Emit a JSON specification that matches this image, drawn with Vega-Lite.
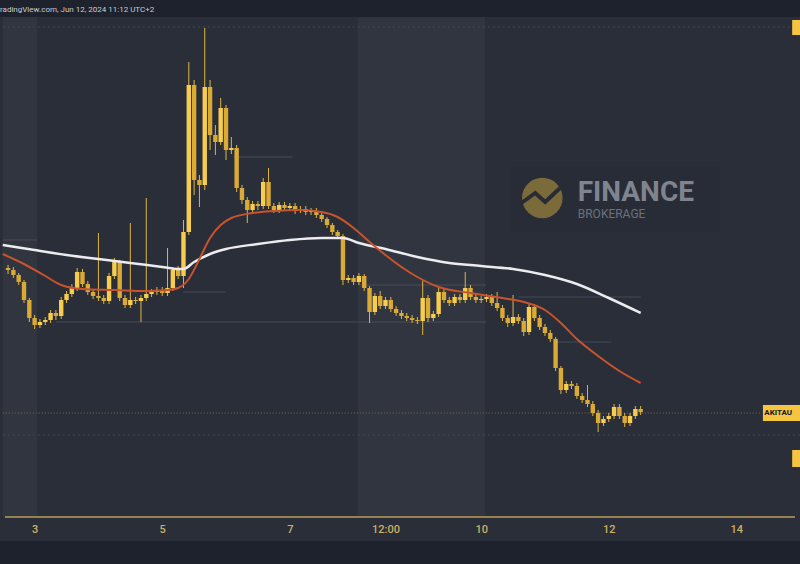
{
  "$schema": "https://vega.github.io/schema/vega-lite/v6.json",
  "width": 800,
  "height": 524,
  "autosize": {"type": "none"},
  "padding": {"left": 0, "top": 17, "right": 0, "bottom": 23},
  "background": "#1e222d",
  "title": {"text": "radingView.com, Jun 12, 2024 11:12 UTC+2", "anchor": "start", "frame": "group", "offset": 3, "fontSize": 8, "font": "Roboto", "fontWeight": "normal", "color": "#c9ccd4"},
  "config": {"view": {"fill": "#2a2e39", "stroke": null}},
  "datasets": {
    "bands": [
      {"s": "2024-06-02T12:00", "e": "2024-06-03T01:00"},
      {"s": "2024-06-08T01:30", "e": "2024-06-10T01:30"}
    ],
    "levels": [
      {"s": "2024-06-02T12:00", "e": "2024-06-14T20:00", "v": 514, "kind": "dot"},
      {"s": "2024-06-02T12:00", "e": "2024-06-14T09:30", "v": 128, "kind": "price"},
      {"s": "2024-06-02T12:00", "e": "2024-06-15T00:00", "v": 106, "kind": "dot"},
      {"s": "2024-06-06T03:00", "e": "2024-06-07T01:00", "v": 384, "kind": "seg"},
      {"s": "2024-06-05T08:00", "e": "2024-06-06T00:00", "v": 249, "kind": "seg"},
      {"s": "2024-06-03T08:00", "e": "2024-06-10T02:00", "v": 219, "kind": "seg"},
      {"s": "2024-06-10T14:00", "e": "2024-06-12T12:00", "v": 244, "kind": "seg"},
      {"s": "2024-06-11T04:00", "e": "2024-06-12T01:00", "v": 199, "kind": "seg"},
      {"s": "2024-06-02T12:00", "e": "2024-06-03T01:00", "v": 301, "kind": "seg"},
      {"s": "2024-06-08T02:00", "e": "2024-06-10T02:00", "v": 256, "kind": "seg"}
    ],
    "tags": [
      {"s": "2024-06-14T10:00", "e": "2024-06-15T00:00", "lo": 120, "hi": 136},
      {"s": "2024-06-14T21:00", "e": "2024-06-15T00:00", "lo": 506, "hi": 521},
      {"s": "2024-06-14T21:00", "e": "2024-06-15T00:00", "lo": 74, "hi": 91}
    ],
    "logo": [
      {"n": 1, "t": "2024-06-10T15:10", "v": 338},
      {"n": 2, "t": "2024-06-10T20:20", "v": 348},
      {"n": 3, "t": "2024-06-11T00:05", "v": 339},
      {"n": 4, "t": "2024-06-11T05:40", "v": 353}
    ],
    "ma200": [
      {"t": "2024-06-02T12:00", "v": 296},
      {"t": "2024-06-03T00:00", "v": 291},
      {"t": "2024-06-03T12:00", "v": 286},
      {"t": "2024-06-04T00:00", "v": 282},
      {"t": "2024-06-04T12:00", "v": 278},
      {"t": "2024-06-05T00:00", "v": 274},
      {"t": "2024-06-05T06:00", "v": 272},
      {"t": "2024-06-05T08:00", "v": 272},
      {"t": "2024-06-05T12:00", "v": 279},
      {"t": "2024-06-05T18:00", "v": 287},
      {"t": "2024-06-06T00:00", "v": 292},
      {"t": "2024-06-06T12:00", "v": 297},
      {"t": "2024-06-07T00:00", "v": 301},
      {"t": "2024-06-07T12:00", "v": 303},
      {"t": "2024-06-07T20:00", "v": 303},
      {"t": "2024-06-08T02:00", "v": 298},
      {"t": "2024-06-08T12:00", "v": 292},
      {"t": "2024-06-09T00:00", "v": 284},
      {"t": "2024-06-09T12:00", "v": 278},
      {"t": "2024-06-10T00:00", "v": 275},
      {"t": "2024-06-10T12:00", "v": 272},
      {"t": "2024-06-11T00:00", "v": 266},
      {"t": "2024-06-11T12:00", "v": 257},
      {"t": "2024-06-12T00:00", "v": 243},
      {"t": "2024-06-12T12:00", "v": 228}
    ],
    "ma50": [
      {"t": "2024-06-02T12:00", "v": 287},
      {"t": "2024-06-02T20:00", "v": 277},
      {"t": "2024-06-03T04:00", "v": 265},
      {"t": "2024-06-03T10:00", "v": 256},
      {"t": "2024-06-03T18:00", "v": 252},
      {"t": "2024-06-04T06:00", "v": 251},
      {"t": "2024-06-04T18:00", "v": 250},
      {"t": "2024-06-05T02:00", "v": 251},
      {"t": "2024-06-05T06:00", "v": 253},
      {"t": "2024-06-05T10:00", "v": 262},
      {"t": "2024-06-05T14:00", "v": 282},
      {"t": "2024-06-05T18:00", "v": 303},
      {"t": "2024-06-05T22:00", "v": 316},
      {"t": "2024-06-06T02:00", "v": 323},
      {"t": "2024-06-06T10:00", "v": 328},
      {"t": "2024-06-06T18:00", "v": 330},
      {"t": "2024-06-07T04:00", "v": 331},
      {"t": "2024-06-07T12:00", "v": 329},
      {"t": "2024-06-07T18:00", "v": 324},
      {"t": "2024-06-08T00:00", "v": 313},
      {"t": "2024-06-08T06:00", "v": 299},
      {"t": "2024-06-08T12:00", "v": 286},
      {"t": "2024-06-08T18:00", "v": 274},
      {"t": "2024-06-09T00:00", "v": 264},
      {"t": "2024-06-09T08:00", "v": 254},
      {"t": "2024-06-09T20:00", "v": 248},
      {"t": "2024-06-10T08:00", "v": 243},
      {"t": "2024-06-10T16:00", "v": 239},
      {"t": "2024-06-11T00:00", "v": 231},
      {"t": "2024-06-11T06:00", "v": 218},
      {"t": "2024-06-11T12:00", "v": 202},
      {"t": "2024-06-11T20:00", "v": 185},
      {"t": "2024-06-12T04:00", "v": 170},
      {"t": "2024-06-12T12:00", "v": 158}
    ],
    "candles": [
      {"t": "2024-06-02T14:00", "o": 273, "h": 276, "l": 267, "c": 271},
      {"t": "2024-06-02T16:00", "o": 271, "h": 274, "l": 263, "c": 266},
      {"t": "2024-06-02T18:00", "o": 266, "h": 268, "l": 256, "c": 259},
      {"t": "2024-06-02T20:00", "o": 259, "h": 261, "l": 238, "c": 241},
      {"t": "2024-06-02T22:00", "o": 241, "h": 243, "l": 219, "c": 223},
      {"t": "2024-06-03T00:00", "o": 223, "h": 226, "l": 212, "c": 216},
      {"t": "2024-06-03T02:00", "o": 216, "h": 222, "l": 213, "c": 219},
      {"t": "2024-06-03T04:00", "o": 219, "h": 224, "l": 216, "c": 221},
      {"t": "2024-06-03T06:00", "o": 221, "h": 231, "l": 218, "c": 228},
      {"t": "2024-06-03T08:00", "o": 228, "h": 231, "l": 221, "c": 225},
      {"t": "2024-06-03T10:00", "o": 225, "h": 244, "l": 222, "c": 241},
      {"t": "2024-06-03T12:00", "o": 241, "h": 250, "l": 238, "c": 247},
      {"t": "2024-06-03T14:00", "o": 247, "h": 257, "l": 244, "c": 253},
      {"t": "2024-06-03T16:00", "o": 253, "h": 273, "l": 250, "c": 269},
      {"t": "2024-06-03T18:00", "o": 269, "h": 272, "l": 254, "c": 257},
      {"t": "2024-06-03T20:00", "o": 257, "h": 260, "l": 246, "c": 249},
      {"t": "2024-06-03T22:00", "o": 249, "h": 252, "l": 242, "c": 245},
      {"t": "2024-06-04T00:00", "o": 245, "h": 308, "l": 240, "c": 243},
      {"t": "2024-06-04T02:00", "o": 243, "h": 246, "l": 237, "c": 240},
      {"t": "2024-06-04T04:00", "o": 240, "h": 268, "l": 237, "c": 265},
      {"t": "2024-06-04T06:00", "o": 265, "h": 283, "l": 262, "c": 279},
      {"t": "2024-06-04T08:00", "o": 279, "h": 281, "l": 240, "c": 243},
      {"t": "2024-06-04T10:00", "o": 243, "h": 246, "l": 233, "c": 236},
      {"t": "2024-06-04T12:00", "o": 236, "h": 318, "l": 233, "c": 241},
      {"t": "2024-06-04T14:00", "o": 241, "h": 244, "l": 237, "c": 240},
      {"t": "2024-06-04T16:00", "o": 240, "h": 246, "l": 219, "c": 243},
      {"t": "2024-06-04T18:00", "o": 243, "h": 343, "l": 240, "c": 247},
      {"t": "2024-06-04T20:00", "o": 247, "h": 252, "l": 244, "c": 249},
      {"t": "2024-06-04T22:00", "o": 249, "h": 254, "l": 246, "c": 251},
      {"t": "2024-06-05T00:00", "o": 251, "h": 254, "l": 245, "c": 248},
      {"t": "2024-06-05T02:00", "o": 248, "h": 293, "l": 245, "c": 253},
      {"t": "2024-06-05T04:00", "o": 253, "h": 274, "l": 250, "c": 271},
      {"t": "2024-06-05T06:00", "o": 271, "h": 275, "l": 262, "c": 265},
      {"t": "2024-06-05T08:00", "o": 265, "h": 321, "l": 253, "c": 309},
      {"t": "2024-06-05T10:00", "o": 309, "h": 479, "l": 306, "c": 456},
      {"t": "2024-06-05T12:00", "o": 456, "h": 461, "l": 346, "c": 361},
      {"t": "2024-06-05T14:00", "o": 361, "h": 366, "l": 334, "c": 356},
      {"t": "2024-06-05T16:00", "o": 356, "h": 513, "l": 351, "c": 454},
      {"t": "2024-06-05T18:00", "o": 454, "h": 461, "l": 391, "c": 406},
      {"t": "2024-06-05T20:00", "o": 406, "h": 416, "l": 386, "c": 399},
      {"t": "2024-06-05T22:00", "o": 399, "h": 443, "l": 396, "c": 433},
      {"t": "2024-06-06T00:00", "o": 433, "h": 436, "l": 381, "c": 391},
      {"t": "2024-06-06T02:00", "o": 391, "h": 404, "l": 387, "c": 393},
      {"t": "2024-06-06T04:00", "o": 393, "h": 396, "l": 349, "c": 353},
      {"t": "2024-06-06T06:00", "o": 353, "h": 356, "l": 337, "c": 341},
      {"t": "2024-06-06T08:00", "o": 341, "h": 344, "l": 318, "c": 331},
      {"t": "2024-06-06T10:00", "o": 331, "h": 340, "l": 327, "c": 337},
      {"t": "2024-06-06T12:00", "o": 337, "h": 340, "l": 331, "c": 335},
      {"t": "2024-06-06T14:00", "o": 335, "h": 363, "l": 332, "c": 359},
      {"t": "2024-06-06T16:00", "o": 359, "h": 373, "l": 332, "c": 335},
      {"t": "2024-06-06T18:00", "o": 335, "h": 338, "l": 328, "c": 331},
      {"t": "2024-06-06T20:00", "o": 331, "h": 339, "l": 328, "c": 336},
      {"t": "2024-06-06T22:00", "o": 336, "h": 339, "l": 330, "c": 333},
      {"t": "2024-06-07T00:00", "o": 333, "h": 338, "l": 330, "c": 335},
      {"t": "2024-06-07T02:00", "o": 335, "h": 338, "l": 327, "c": 331},
      {"t": "2024-06-07T04:00", "o": 331, "h": 335, "l": 328, "c": 332},
      {"t": "2024-06-07T06:00", "o": 332, "h": 335, "l": 326, "c": 329},
      {"t": "2024-06-07T08:00", "o": 329, "h": 333, "l": 326, "c": 330},
      {"t": "2024-06-07T10:00", "o": 330, "h": 333, "l": 323, "c": 326},
      {"t": "2024-06-07T12:00", "o": 326, "h": 328, "l": 319, "c": 322},
      {"t": "2024-06-07T14:00", "o": 322, "h": 324, "l": 313, "c": 316},
      {"t": "2024-06-07T16:00", "o": 316, "h": 318, "l": 306, "c": 309},
      {"t": "2024-06-07T18:00", "o": 309, "h": 311, "l": 302, "c": 305},
      {"t": "2024-06-07T20:00", "o": 305, "h": 307, "l": 256, "c": 261},
      {"t": "2024-06-07T22:00", "o": 261, "h": 266, "l": 258, "c": 263},
      {"t": "2024-06-08T00:00", "o": 263, "h": 266, "l": 256, "c": 259},
      {"t": "2024-06-08T02:00", "o": 259, "h": 268, "l": 256, "c": 265},
      {"t": "2024-06-08T04:00", "o": 265, "h": 267, "l": 250, "c": 253},
      {"t": "2024-06-08T06:00", "o": 253, "h": 255, "l": 218, "c": 229},
      {"t": "2024-06-08T08:00", "o": 229, "h": 248, "l": 226, "c": 245},
      {"t": "2024-06-08T10:00", "o": 245, "h": 250, "l": 232, "c": 235},
      {"t": "2024-06-08T12:00", "o": 235, "h": 244, "l": 232, "c": 241},
      {"t": "2024-06-08T14:00", "o": 241, "h": 244, "l": 229, "c": 232},
      {"t": "2024-06-08T16:00", "o": 232, "h": 235, "l": 225, "c": 228},
      {"t": "2024-06-08T18:00", "o": 228, "h": 231, "l": 222, "c": 225},
      {"t": "2024-06-08T20:00", "o": 225, "h": 228, "l": 220, "c": 223},
      {"t": "2024-06-08T22:00", "o": 223, "h": 226, "l": 218, "c": 221},
      {"t": "2024-06-09T00:00", "o": 221, "h": 224, "l": 217, "c": 220},
      {"t": "2024-06-09T02:00", "o": 220, "h": 261, "l": 206, "c": 243},
      {"t": "2024-06-09T04:00", "o": 243, "h": 246, "l": 219, "c": 223},
      {"t": "2024-06-09T06:00", "o": 223, "h": 230, "l": 220, "c": 227},
      {"t": "2024-06-09T08:00", "o": 227, "h": 253, "l": 224, "c": 249},
      {"t": "2024-06-09T10:00", "o": 249, "h": 252, "l": 238, "c": 241},
      {"t": "2024-06-09T12:00", "o": 241, "h": 244, "l": 235, "c": 238},
      {"t": "2024-06-09T14:00", "o": 238, "h": 247, "l": 235, "c": 244},
      {"t": "2024-06-09T16:00", "o": 244, "h": 247, "l": 238, "c": 241},
      {"t": "2024-06-09T18:00", "o": 241, "h": 269, "l": 238, "c": 253},
      {"t": "2024-06-09T20:00", "o": 253, "h": 256, "l": 241, "c": 244},
      {"t": "2024-06-09T22:00", "o": 244, "h": 247, "l": 238, "c": 241},
      {"t": "2024-06-10T00:00", "o": 241, "h": 245, "l": 238, "c": 242},
      {"t": "2024-06-10T02:00", "o": 242, "h": 247, "l": 239, "c": 244},
      {"t": "2024-06-10T04:00", "o": 244, "h": 247, "l": 235, "c": 238},
      {"t": "2024-06-10T06:00", "o": 238, "h": 249, "l": 230, "c": 233},
      {"t": "2024-06-10T08:00", "o": 233, "h": 236, "l": 220, "c": 223},
      {"t": "2024-06-10T10:00", "o": 223, "h": 226, "l": 214, "c": 218},
      {"t": "2024-06-10T12:00", "o": 218, "h": 246, "l": 215, "c": 224},
      {"t": "2024-06-10T14:00", "o": 224, "h": 227, "l": 217, "c": 220},
      {"t": "2024-06-10T16:00", "o": 220, "h": 223, "l": 205, "c": 209},
      {"t": "2024-06-10T18:00", "o": 209, "h": 238, "l": 206, "c": 234},
      {"t": "2024-06-10T20:00", "o": 234, "h": 237, "l": 220, "c": 223},
      {"t": "2024-06-10T22:00", "o": 223, "h": 226, "l": 211, "c": 214},
      {"t": "2024-06-11T00:00", "o": 214, "h": 217, "l": 205, "c": 208},
      {"t": "2024-06-11T02:00", "o": 208, "h": 211, "l": 199, "c": 202},
      {"t": "2024-06-11T04:00", "o": 202, "h": 204, "l": 170, "c": 173},
      {"t": "2024-06-11T06:00", "o": 173, "h": 175, "l": 147, "c": 151},
      {"t": "2024-06-11T08:00", "o": 151, "h": 160, "l": 148, "c": 157},
      {"t": "2024-06-11T10:00", "o": 157, "h": 160, "l": 152, "c": 155},
      {"t": "2024-06-11T12:00", "o": 155, "h": 158, "l": 142, "c": 145},
      {"t": "2024-06-11T14:00", "o": 145, "h": 148, "l": 138, "c": 141},
      {"t": "2024-06-11T16:00", "o": 141, "h": 156, "l": 134, "c": 137},
      {"t": "2024-06-11T18:00", "o": 137, "h": 140, "l": 125, "c": 128},
      {"t": "2024-06-11T20:00", "o": 128, "h": 131, "l": 109, "c": 118},
      {"t": "2024-06-11T22:00", "o": 118, "h": 125, "l": 115, "c": 122},
      {"t": "2024-06-12T00:00", "o": 122, "h": 128, "l": 119, "c": 125},
      {"t": "2024-06-12T02:00", "o": 125, "h": 137, "l": 122, "c": 134},
      {"t": "2024-06-12T04:00", "o": 134, "h": 137, "l": 122, "c": 125},
      {"t": "2024-06-12T06:00", "o": 125, "h": 128, "l": 114, "c": 118},
      {"t": "2024-06-12T08:00", "o": 118, "h": 128, "l": 115, "c": 125},
      {"t": "2024-06-12T10:00", "o": 125, "h": 135, "l": 122, "c": 132},
      {"t": "2024-06-12T12:00", "o": 132, "h": 135, "l": 126, "c": 129}
    ]
  },
  "layer": [
    {
      "data": {"name": "bands"},
      "mark": {"type": "rect", "color": "#31353f", "clip": true},
      "encoding": {
        "x": {
          "field": "s", "type": "temporal", "title": null,
          "scale": {"domain": [{"year": 2024, "month": 6, "date": 2, "hours": 12, "minutes": 51}, {"year": 2024, "month": 6, "date": 14, "hours": 22, "minutes": 4}], "nice": false},
          "axis": {
            "values": [
              {"year": 2024, "month": 6, "date": 3},
              {"year": 2024, "month": 6, "date": 5},
              {"year": 2024, "month": 6, "date": 7},
              {"year": 2024, "month": 6, "date": 8, "hours": 12},
              {"year": 2024, "month": 6, "date": 10},
              {"year": 2024, "month": 6, "date": 12},
              {"year": 2024, "month": 6, "date": 14}
            ],
            "labelExpr": "hours(datum.value) == 12 ? '12:00' : '' + date(datum.value)",
            "title": null,
            "offset": -24,
            "domain": false,
            "ticks": false,
            "grid": false,
            "labelColor": "#cdb064",
            "labelFont": "Roboto",
            "labelFontSize": 11,
            "labelFontWeight": 500,
            "labelPadding": 6,
            "labelFlush": false,
            "labelOverlap": false
          }
        },
        "x2": {"field": "e"},
        "y": {"datum": 24, "type": "quantitative", "scale": {"domain": [0, 524], "nice": false, "zero": false}, "axis": null},
        "y2": {"datum": 524}
      }
    },
    {
      "data": {"name": "levels"},
      "mark": {"type": "rule", "clip": true, "strokeWidth": 1},
      "encoding": {
        "x": {"field": "s", "type": "temporal", "title": null},
        "x2": {"field": "e"},
        "y": {"field": "v", "type": "quantitative", "axis": null},
        "color": {"field": "kind", "type": "nominal", "scale": {"domain": ["seg", "dot", "price"], "range": ["#4a4f5b", "#434855", "#77704a"]}, "legend": null},
        "strokeDash": {"field": "kind", "type": "nominal", "scale": {"domain": ["seg", "dot", "price"], "range": [[1, 0], [2, 3], [1, 2]]}, "legend": null}
      }
    },
    {
      "data": {"values": [{}]},
      "mark": {"type": "rect", "color": "#282c37"},
      "encoding": {
        "x": {"datum": {"year": 2024, "month": 6, "date": 10, "hours": 11}, "type": "temporal", "title": null},
        "x2": {"datum": {"year": 2024, "month": 6, "date": 13, "hours": 17, "minutes": 30}},
        "y": {"datum": 309, "type": "quantitative", "axis": null},
        "y2": {"datum": 374}
      }
    },
    {
      "data": {"values": [{}]},
      "mark": {"type": "rect", "color": "#b89d5a"},
      "encoding": {
        "x": {"datum": {"year": 2024, "month": 6, "date": 2, "hours": 12, "minutes": 51}, "type": "temporal", "title": null},
        "x2": {"datum": {"year": 2024, "month": 6, "date": 14, "hours": 22, "minutes": 4}},
        "y": {"datum": 23.2, "type": "quantitative", "axis": null},
        "y2": {"datum": 24.8}
      }
    },
    {
      "data": {"values": [{}]},
      "mark": {"type": "point", "filled": true, "size": 1650, "color": "#7c6b3a", "opacity": 1},
      "encoding": {
        "x": {"datum": {"year": 2024, "month": 6, "date": 10, "hours": 23}, "type": "temporal", "title": null},
        "y": {"datum": 343, "type": "quantitative", "axis": null}
      }
    },
    {
      "data": {"name": "logo"},
      "mark": {"type": "line", "color": "#282c37", "strokeWidth": 4, "strokeJoin": "miter"},
      "encoding": {
        "x": {"field": "t", "type": "temporal", "title": null},
        "y": {"field": "v", "type": "quantitative", "axis": null},
        "order": {"field": "n"}
      }
    },
    {
      "data": {"values": [{}]},
      "mark": {"type": "text", "text": "FINANCE", "align": "left", "baseline": "alphabetic", "fontSize": 28, "fontWeight": "bold", "font": "Roboto", "color": "#80848f"},
      "encoding": {
        "x": {"datum": {"year": 2024, "month": 6, "date": 11, "hours": 12, "minutes": 20}, "type": "temporal", "title": null},
        "y": {"datum": 340, "type": "quantitative", "axis": null}
      }
    },
    {
      "data": {"values": [{}]},
      "mark": {"type": "text", "text": "BROKERAGE", "align": "left", "baseline": "alphabetic", "fontSize": 12, "font": "Roboto", "color": "#6c707c"},
      "encoding": {
        "x": {"datum": {"year": 2024, "month": 6, "date": 11, "hours": 12, "minutes": 20}, "type": "temporal", "title": null},
        "y": {"datum": 323, "type": "quantitative", "axis": null}
      }
    },
    {
      "data": {"name": "candles"},
      "mark": {"type": "rule", "color": "#e0b540", "strokeWidth": 1},
      "encoding": {
        "x": {"field": "t", "type": "temporal", "title": null},
        "y": {"field": "l", "type": "quantitative", "axis": null},
        "y2": {"field": "h"}
      }
    },
    {
      "data": {"name": "candles"},
      "mark": {"type": "bar", "width": 4.4},
      "encoding": {
        "x": {"field": "t", "type": "temporal", "title": null},
        "y": {"field": "o", "type": "quantitative", "axis": null},
        "y2": {"field": "c"},
        "color": {"condition": {"test": "datum.c >= datum.o", "value": "#f6cd4f"}, "value": "#d9aa36"}
      }
    },
    {
      "data": {"name": "ma200"},
      "mark": {"type": "line", "color": "#ececef", "strokeWidth": 2.5, "interpolate": "monotone", "clip": true},
      "encoding": {
        "x": {"field": "t", "type": "temporal", "title": null},
        "y": {"field": "v", "type": "quantitative", "axis": null}
      }
    },
    {
      "data": {"name": "ma50"},
      "mark": {"type": "line", "color": "#c9532c", "strokeWidth": 2, "interpolate": "monotone", "clip": true},
      "encoding": {
        "x": {"field": "t", "type": "temporal", "title": null},
        "y": {"field": "v", "type": "quantitative", "axis": null}
      }
    },
    {
      "data": {"name": "tags"},
      "mark": {"type": "rect", "color": "#f5c542", "clip": true},
      "encoding": {
        "x": {"field": "s", "type": "temporal", "title": null},
        "x2": {"field": "e"},
        "y": {"field": "lo", "type": "quantitative", "axis": null},
        "y2": {"field": "hi"}
      }
    },
    {
      "data": {"values": [{}]},
      "mark": {"type": "text", "text": "AKITAU", "align": "left", "baseline": "middle", "fontSize": 8, "fontWeight": "bold", "font": "Roboto", "color": "#131722"},
      "encoding": {
        "x": {"datum": {"year": 2024, "month": 6, "date": 14, "hours": 10, "minutes": 30}, "type": "temporal", "title": null},
        "y": {"datum": 128, "type": "quantitative", "axis": null}
      }
    }
  ]
}
